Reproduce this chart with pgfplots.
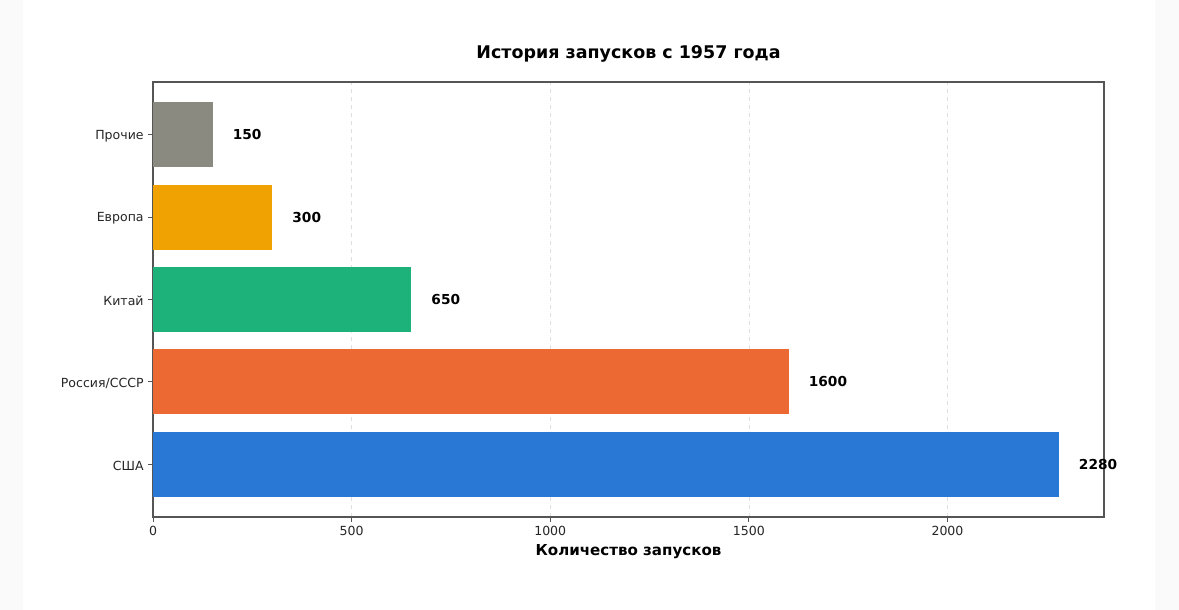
\documentclass[border=0pt]{standalone}
\usepackage{fontspec}
\setmainfont{DejaVu Sans}
\usepackage{pgfplots}
\pgfplotsset{compat=1.18}
\definecolor{cgray}{HTML}{8A8A80}
\definecolor{corange}{HTML}{F0A202}
\definecolor{cgreen}{HTML}{1DB27A}
\definecolor{cred}{HTML}{EC6934}
\definecolor{cblue}{HTML}{2A78D6}
\definecolor{spine}{HTML}{555555}
\begin{document}
\begin{tikzpicture}[x=0.75pt,y=0.75pt]
\fill[black!2] (0,0) rectangle (1179,610);
\fill[white] (23,0) rectangle (1155,610);
\useasboundingbox (0,0) rectangle (1179,610);
\begin{axis}[
  at={(153*0.75pt,93*0.75pt)}, anchor=south west,
  scale only axis, width=713.25pt, height=326.25pt,
  xbar, bar width=0.79, bar shift=0pt,
  xmin=0, xmax=2394, ymin=-0.64, ymax=4.64,
  ytick={0,1,2,3,4},
  yticklabels={США,Россия/СССР,Китай,Европа,Прочие},
  xtick={0,500,1000,1500,2000},
  /pgf/number format/assume math mode=true,
  /pgf/number format/1000 sep={},
  tick label style={font=\fontsize{9.4}{11}\selectfont, text=black!85},
  yticklabel style={yshift=-1.1pt},
  tick align=outside, tick pos=left,
  major tick length=3.5pt,
  tick style={spine, line width=0.6pt},
  axis line style={spine, line width=1pt},
  xmajorgrids, grid style={dashed, black!12, line width=0.5pt},
  title={\bfseries История запусков с 1957 года},
  title style={font=\fontsize{13.1}{15}\selectfont, at={(0.5,1)}, anchor=center, yshift=15pt},
  xlabel={\bfseries Количество запусков},
  xlabel style={font=\fontsize{11.3}{13}\selectfont, at={(0.5,0)}, anchor=center, yshift=-26.25pt},
  nodes near coords,
  nodes near coords style={font=\fontsize{10.3}{12}\selectfont\bfseries, anchor=west, inner sep=0pt, xshift=15pt, text=black},
  point meta=x,
]
\addplot[fill=cblue, draw=none] coordinates {(2280,0)};
\addplot[fill=cred, draw=none] coordinates {(1600,1)};
\addplot[fill=cgreen, draw=none] coordinates {(650,2)};
\addplot[fill=corange, draw=none] coordinates {(300,3)};
\addplot[fill=cgray, draw=none] coordinates {(150,4)};
\end{axis}
\end{tikzpicture}
\end{document}
